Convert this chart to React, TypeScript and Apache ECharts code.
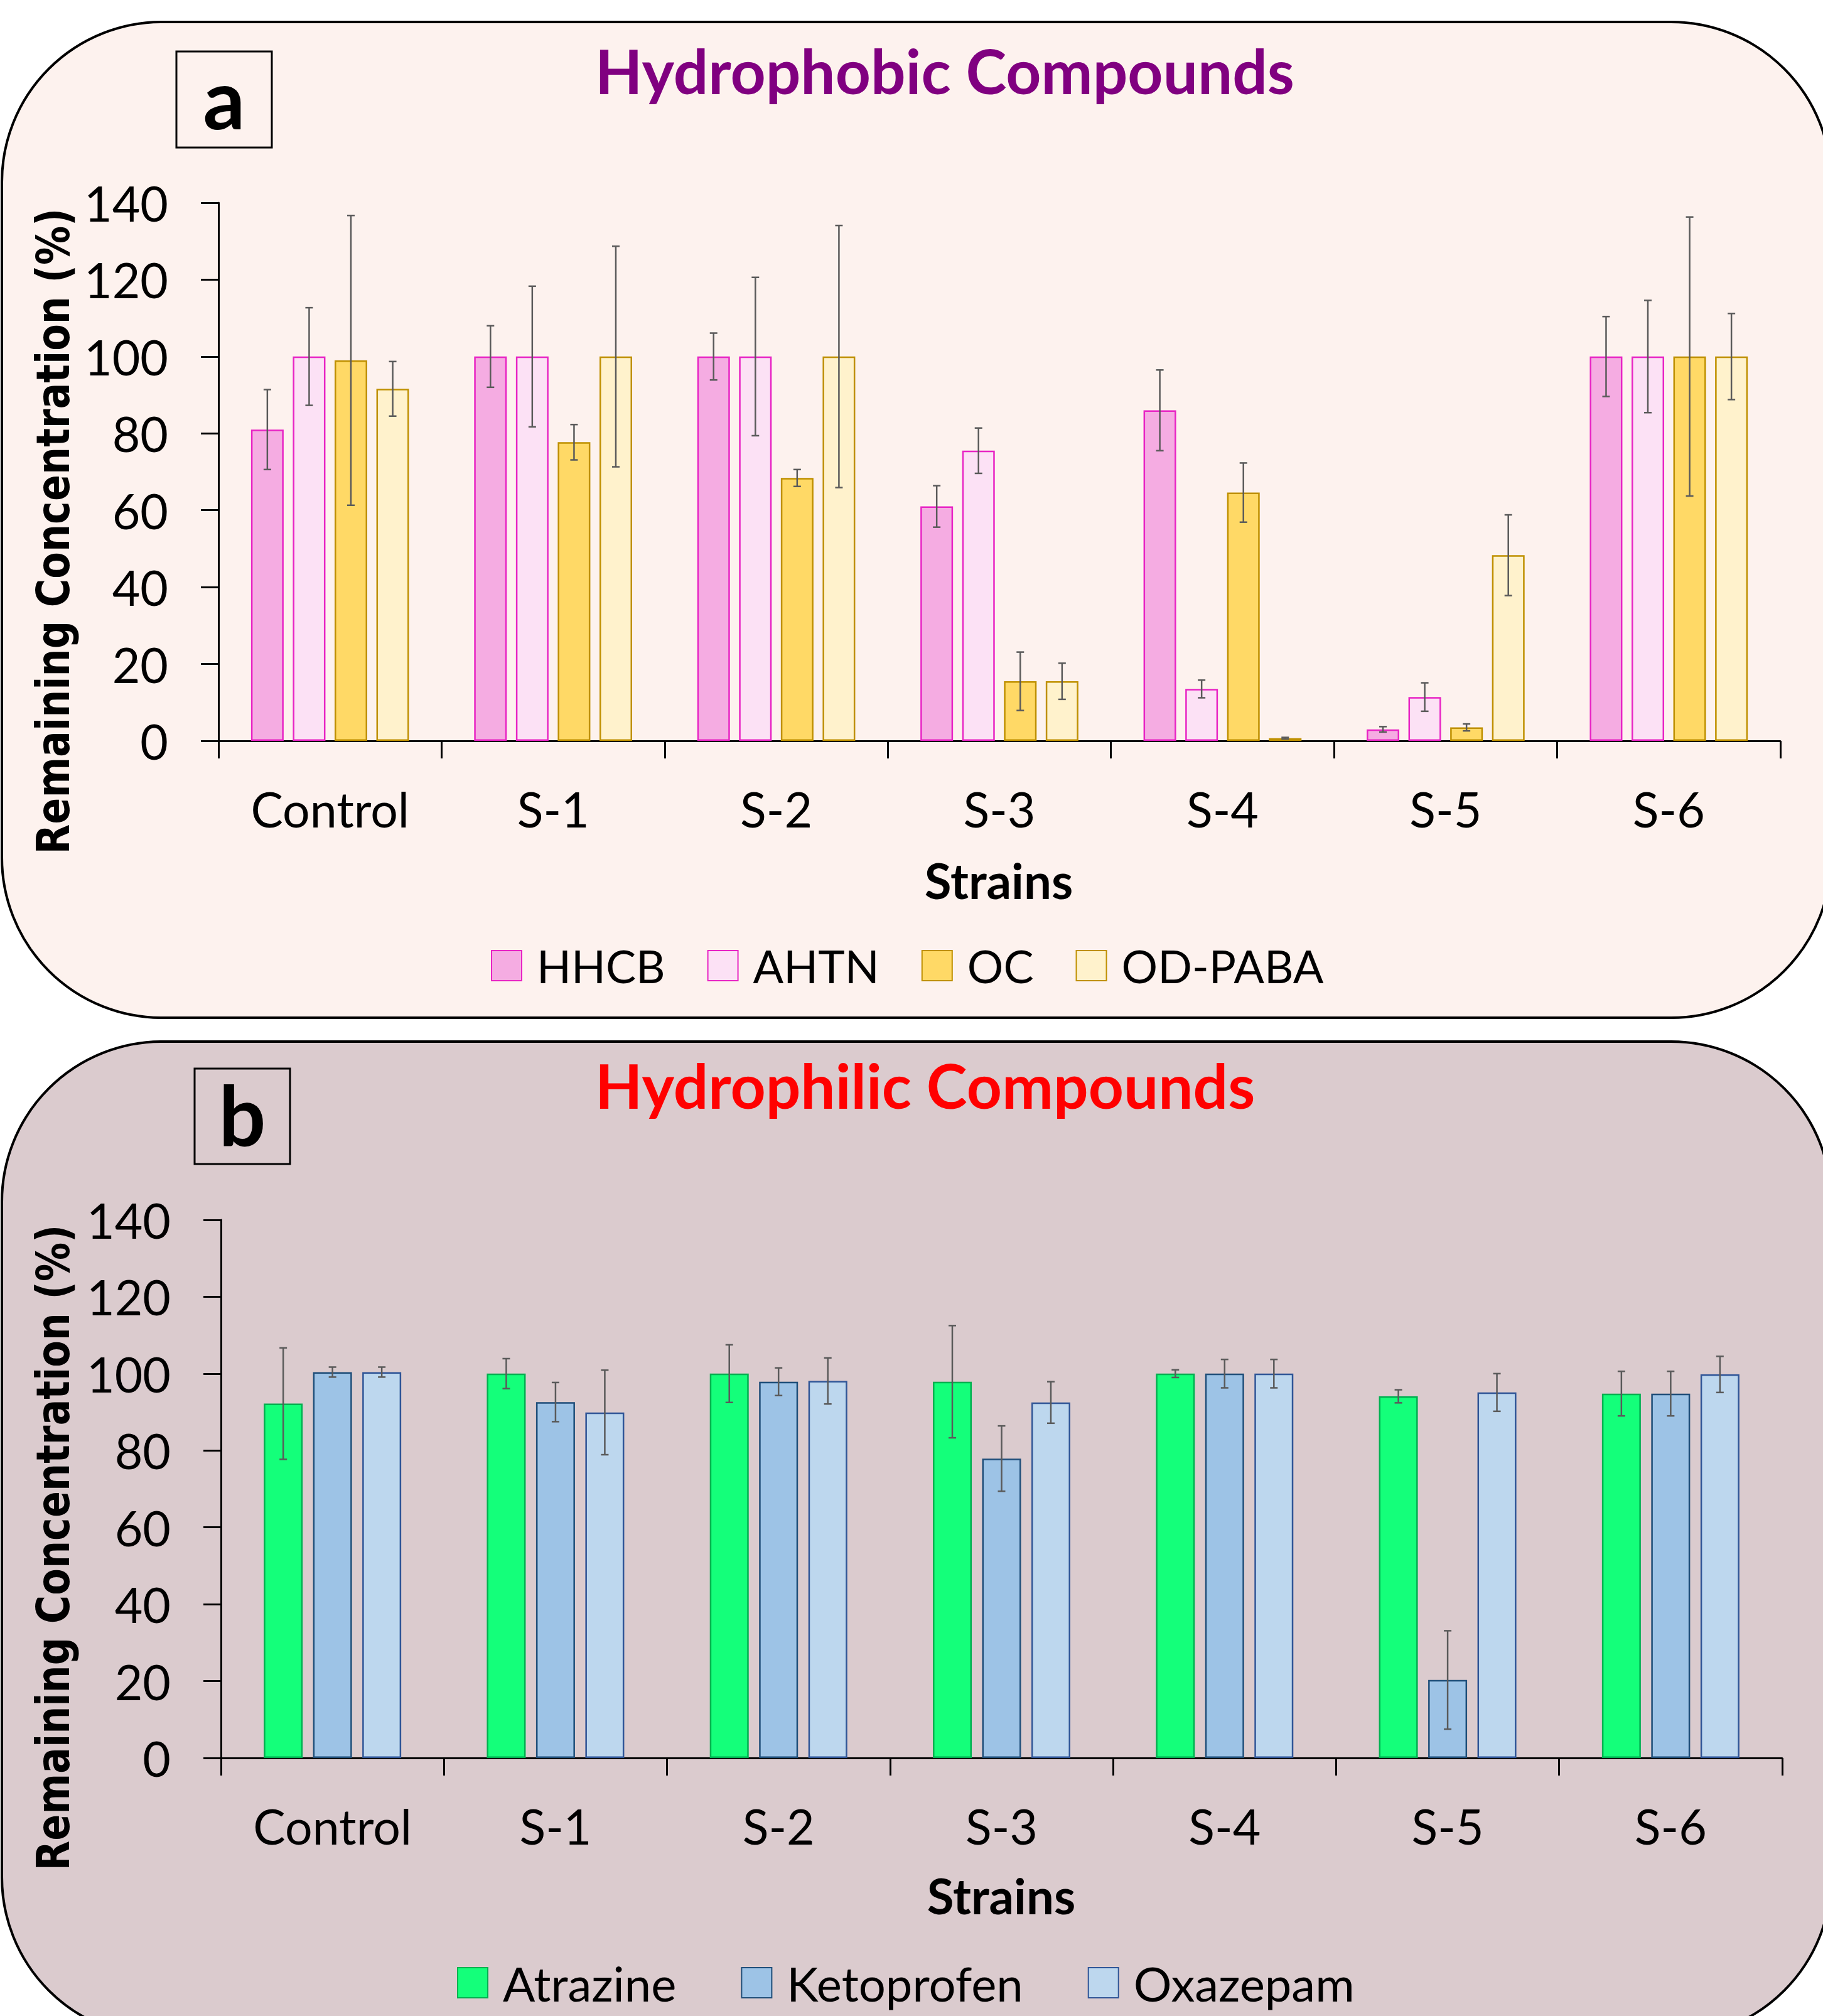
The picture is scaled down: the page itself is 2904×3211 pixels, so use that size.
import React, { useEffect, useRef } from "react";
import * as echarts from "echarts";

const categories = ["Control", "S-1", "S-2", "S-3", "S-4", "S-5", "S-6"];

// Panel a: hydrophobic compounds (mean, sd)
const hhcb = [81, 100, 100, 61, 86, 3, 100];
const hhcbErr = [10.4, 8, 6.1, 5.4, 10.5, 0.7, 10.4];
const ahtn = [100, 100, 100, 75.5, 13.5, 11.4, 100];
const ahtnErr = [12.7, 18.3, 20.6, 5.9, 2.3, 3.7, 14.6];
const oc = [99, 77.7, 68.4, 15.5, 64.6, 3.5, 100];
const ocErr = [37.7, 4.6, 2.2, 7.6, 7.7, 0.9, 36.3];
const odPaba = [91.6, 100, 100, 15.5, 0.7, 48.3, 100];
const odPabaErr = [7.1, 28.7, 34.1, 4.7, 0.2, 10.5, 11.2];

// Panel b: hydrophilic compounds (mean, sd)
const atrazine = [92.2, 100, 100, 97.9, 100, 94.1, 94.8];
const atrazineErr = [14.5, 3.9, 7.5, 14.6, 1.0, 1.7, 5.8];
const ketoprofen = [100.4, 92.6, 97.9, 77.9, 100, 20.3, 94.8];
const ketoprofenErr = [1.3, 5.1, 3.6, 8.5, 3.7, 12.8, 5.8];
const oxazepam = [100.4, 89.9, 98.1, 92.5, 100, 95.1, 99.8];
const oxazepamErr = [1.3, 11, 6.0, 5.4, 3.7, 4.9, 4.7];

const yMin = 0;
const yMax = 140;
const yInterval = 20;

const FONT = "Lato, 'Open Sans', sans-serif";
const WIDE = "'DejaVu Sans', Verdana, sans-serif";

type SeriesDef = { name: string; values: number[]; errs: number[]; fill: string; border: string };

const seriesA: SeriesDef[] = [
  { name: "HHCB", values: hhcb, errs: hhcbErr, fill: "#F5ACE2", border: "#E824C4" },
  { name: "AHTN", values: ahtn, errs: ahtnErr, fill: "#FCE1F5", border: "#E824C4" },
  { name: "OC", values: oc, errs: ocErr, fill: "#FFD966", border: "#BF9000" },
  { name: "OD-PABA", values: odPaba, errs: odPabaErr, fill: "#FFF2CC", border: "#BF9000" },
];
const seriesB: SeriesDef[] = [
  { name: "Atrazine", values: atrazine, errs: atrazineErr, fill: "#14FF7A", border: "#00B050" },
  { name: "Ketoprofen", values: ketoprofen, errs: ketoprofenErr, fill: "#9DC3E6", border: "#1F4E79" },
  { name: "Oxazepam", values: oxazepam, errs: oxazepamErr, fill: "#BDD7EE", border: "#2F5597" },
];

function buildSeries(defs: SeriesDef[], gridIdx: number, barWidth: number, gapRatio: number) {
  const out: any[] = [];
  const n = defs.length;
  const stride = barWidth * (1 + gapRatio);
  defs.forEach((d, i) => {
    out.push({
      name: d.name,
      type: "bar",
      xAxisIndex: gridIdx,
      yAxisIndex: gridIdx,
      barWidth: barWidth,
      barGap: gapRatio * 100 + "%",
      data: d.values,
      itemStyle: { color: d.fill, borderColor: d.border, borderWidth: 2.5 },
      z: 2,
    });
    const offset = (i - (n - 1) / 2) * stride;
    out.push({
      name: d.name + " SD",
      type: "custom",
      xAxisIndex: gridIdx,
      yAxisIndex: gridIdx,
      z: 5,
      silent: true,
      encode: { x: 0, y: 1 },
      data: d.values.map((v, k) => [k, v, d.errs[k]]),
      renderItem: (params: any, api: any) => {
        const idx = api.value(0);
        const v = api.value(1);
        const e = api.value(2);
        const top = api.coord([idx, v + e]);
        const bot = api.coord([idx, Math.max(0, v - e)]);
        const cx = top[0] + offset;
        const hw = 6;
        const st = { stroke: "#5A5A5A", lineWidth: 2.5 };
        return {
          type: "group",
          children: [
            { type: "line", shape: { x1: cx, y1: top[1], x2: cx, y2: bot[1] }, style: st },
            { type: "line", shape: { x1: cx - hw, y1: top[1], x2: cx + hw, y2: top[1] }, style: st },
            { type: "line", shape: { x1: cx - hw, y1: bot[1], x2: cx + hw, y2: bot[1] }, style: st },
          ],
        };
      },
    });
  });
  return out;
}

function xAxisDef(gridIdx: number) {
  return {
    type: "category",
    gridIndex: gridIdx,
    data: categories,
    axisLine: { show: true, lineStyle: { color: "#000", width: 3 } },
    axisTick: { show: true, length: 28, interval: 0, lineStyle: { color: "#000", width: 3 } },
    axisLabel: { fontSize: 77, fontFamily: FONT, color: "#000", margin: 69, interval: 0 },
    splitLine: { show: false },
  };
}

function yAxisDef(gridIdx: number) {
  return {
    type: "value",
    gridIndex: gridIdx,
    min: yMin,
    max: yMax,
    interval: yInterval,
    axisLine: { show: true, lineStyle: { color: "#000", width: 3 } },
    axisTick: { show: true, length: 28, lineStyle: { color: "#000", width: 3 } },
    axisLabel: { fontSize: 77, fontFamily: FONT, color: "#000", margin: 80 },
    splitLine: { show: false },
  };
}

export default function App() {
  const ref = useRef<HTMLDivElement>(null);
  useEffect(() => {
    if (!ref.current) return;
    const chart = echarts.init(ref.current, undefined, { renderer: "svg" });
    const option: any = {
      animation: false,
      backgroundColor: "#FFFFFF",
      grid: [
        { left: 348, top: 323, width: 2488, height: 857 },
        { left: 352, top: 1943, width: 2487, height: 857 },
      ],
      xAxis: [xAxisDef(0), xAxisDef(1)],
      yAxis: [yAxisDef(0), yAxisDef(1)],
      legend: [
        {
          data: seriesA.map((s) => s.name),
          left: 782,
          top: 1502,
          padding: 0,
          itemWidth: 48,
          itemHeight: 48,
          itemGap: 67,
          icon: "rect",
          textStyle: { fontSize: 72, fontFamily: FONT, color: "#000", padding: [0, 0, 0, 19] },
          selectedMode: false,
        },
        {
          data: seriesB.map((s) => s.name),
          left: 728,
          top: 3120,
          padding: 0,
          itemWidth: 48,
          itemHeight: 48,
          itemGap: 103,
          icon: "rect",
          textStyle: { fontSize: 76, fontFamily: FONT, color: "#000", padding: [0, 0, 0, 19] },
          selectedMode: false,
        },
      ],
      graphic: [
        {
          type: "rect",
          z: -10,
          silent: true,
          shape: { x: 3, y: 35, width: 2914, height: 1586, r: 255 },
          style: { fill: "#FDF2EE", stroke: "#000", lineWidth: 4 },
        },
        {
          type: "rect",
          z: -10,
          silent: true,
          shape: { x: 3, y: 1659, width: 2914, height: 1586, r: 255 },
          style: { fill: "#DBCBCE", stroke: "#000", lineWidth: 4 },
        },
        {
          type: "rect",
          silent: true,
          shape: { x: 281, y: 82, width: 152, height: 153 },
          style: { fill: "transparent", stroke: "#000", lineWidth: 3 },
        },
        {
          type: "rect",
          silent: true,
          shape: { x: 310, y: 1702, width: 152, height: 152 },
          style: { fill: "transparent", stroke: "#000", lineWidth: 3 },
        },
        {
          type: "text",
          x: 357,
          y: 155,
          style: { text: "a", fontSize: 132, fontWeight: "bold", fontFamily: FONT, fill: "#000", align: "center", verticalAlign: "middle" },
        },
        {
          type: "text",
          x: 386,
          y: 1774,
          style: { text: "b", fontSize: 132, fontWeight: "bold", fontFamily: FONT, fill: "#000", align: "center", verticalAlign: "middle" },
        },
        {
          type: "text",
          x: 948,
          y: 112,
          style: { text: "Hydrophobic Compounds", fontSize: 98, fontWeight: "bold", fontFamily: FONT, fill: "#800080", align: "left", verticalAlign: "middle" },
        },
        {
          type: "text",
          x: 948,
          y: 1728,
          style: { text: "Hydrophilic Compounds", fontSize: 98, fontWeight: "bold", fontFamily: FONT, fill: "#FF0000", align: "left", verticalAlign: "middle" },
        },
        {
          type: "text",
          x: 85,
          y: 846,
          rotation: Math.PI / 2,
          scaleX: 0.85,
          style: { text: "Remaining Concentration (%)", fontSize: 73, fontWeight: "bold", fontFamily: WIDE, fill: "#000", align: "center", verticalAlign: "middle" },
        },
        {
          type: "text",
          x: 85,
          y: 2465,
          rotation: Math.PI / 2,
          scaleX: 0.85,
          style: { text: "Remaining Concentration (%)", fontSize: 73, fontWeight: "bold", fontFamily: WIDE, fill: "#000", align: "center", verticalAlign: "middle" },
        },
        {
          type: "text",
          x: 1591,
          y: 1402,
          style: { text: "Strains", fontSize: 78, fontWeight: "bold", fontFamily: FONT, fill: "#000", align: "center", verticalAlign: "middle" },
        },
        {
          type: "text",
          x: 1595,
          y: 3019,
          style: { text: "Strains", fontSize: 78, fontWeight: "bold", fontFamily: FONT, fill: "#000", align: "center", verticalAlign: "middle" },
        },
      ],
      series: [...buildSeries(seriesA, 0, 52, 0.28), ...buildSeries(seriesB, 1, 62, 0.266)],
    };
    chart.setOption(option);
    return () => chart.dispose();
  }, []);
  return (
    <div
      ref={ref}
      style={{ position: "absolute", left: 0, top: 0, width: "2904px", height: "3211px" }}
    />
  );
}
